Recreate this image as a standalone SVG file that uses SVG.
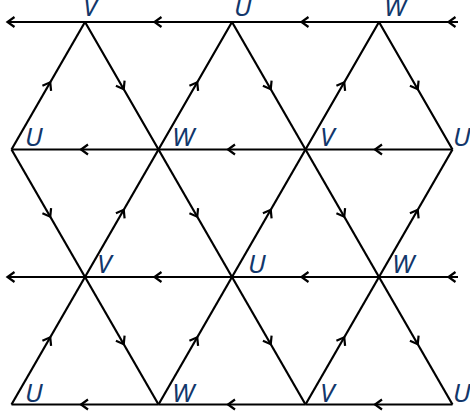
<svg xmlns="http://www.w3.org/2000/svg" width="470" height="417" viewBox="0 0 470 417">
<style>
.e{fill:none;stroke:#000;stroke-width:2.2;marker-mid:url(#ah)}
.l{font-family:"Noto Sans",sans-serif;font-style:italic;font-size:26px;fill:#12376b}
</style>
<defs>
<marker id="ah" markerUnits="userSpaceOnUse" orient="auto" refX="0" refY="0" markerWidth="20" markerHeight="20" viewBox="-10 -10 20 20" overflow="visible">
<path d="M -3,-5 L 4,0 L -3,5" fill="none" stroke="#000" stroke-width="2.2"/>
</marker>
</defs>
<rect width="470" height="417" fill="#fff"/>
<g id="connectors">
<path class="e" d="M458,22 L452.5,22 L379,22"/>
<path class="e" d="M379,22 L305.5,22 L232,22"/>
<path class="e" d="M232,22 L158.5,22 L85,22"/>
<path class="e" d="M85,22 L11.5,22 L7,22"/>
<path class="e" d="M452.5,149.5 L379,149.5 L305.5,149.5"/>
<path class="e" d="M305.5,149.5 L232,149.5 L158.5,149.5"/>
<path class="e" d="M158.5,149.5 L85,149.5 L11.5,149.5"/>
<path class="e" d="M458,277 L452.5,277 L379,277"/>
<path class="e" d="M379,277 L305.5,277 L232,277"/>
<path class="e" d="M232,277 L158.5,277 L85,277"/>
<path class="e" d="M85,277 L11.5,277 L7,277"/>
<path class="e" d="M452.5,404.5 L379,404.5 L305.5,404.5"/>
<path class="e" d="M305.5,404.5 L232,404.5 L158.5,404.5"/>
<path class="e" d="M158.5,404.5 L85,404.5 L11.5,404.5"/>
<path class="e" d="M11.5,149.5 L48.25,85.75 L85,22"/>
<path class="e" d="M85,22 L121.75,85.75 L158.5,149.5"/>
<path class="e" d="M158.5,149.5 L195.25,85.75 L232,22"/>
<path class="e" d="M232,22 L268.75,85.75 L305.5,149.5"/>
<path class="e" d="M305.5,149.5 L342.25,85.75 L379,22"/>
<path class="e" d="M379,22 L415.75,85.75 L452.5,149.5"/>
<path class="e" d="M11.5,149.5 L48.25,213.25 L85,277"/>
<path class="e" d="M85,277 L121.75,213.25 L158.5,149.5"/>
<path class="e" d="M158.5,149.5 L195.25,213.25 L232,277"/>
<path class="e" d="M232,277 L268.75,213.25 L305.5,149.5"/>
<path class="e" d="M305.5,149.5 L342.25,213.25 L379,277"/>
<path class="e" d="M379,277 L415.75,213.25 L452.5,149.5"/>
<path class="e" d="M11.5,404.5 L48.25,340.75 L85,277"/>
<path class="e" d="M85,277 L121.75,340.75 L158.5,404.5"/>
<path class="e" d="M158.5,404.5 L195.25,340.75 L232,277"/>
<path class="e" d="M232,277 L268.75,340.75 L305.5,404.5"/>
<path class="e" d="M305.5,404.5 L342.25,340.75 L379,277"/>
<path class="e" d="M379,277 L415.75,340.75 L452.5,404.5"/>
</g>
<g id="n1"><text class="l" x="83" y="16">V</text></g>
<g id="n2"><text class="l" x="234" y="16">U</text></g>
<g id="n3"><text class="l" x="384" y="16">W</text></g>
<g id="n4"><text class="l" x="25" y="146">U</text></g>
<g id="n5"><text class="l" x="172" y="146">W</text></g>
<g id="n6"><text class="l" x="320" y="146">V</text></g>
<g id="n7"><text class="l" x="453" y="146">U</text></g>
<g id="n8"><text class="l" x="97" y="273">V</text></g>
<g id="n9"><text class="l" x="248" y="273">U</text></g>
<g id="n10"><text class="l" x="392" y="273">W</text></g>
<g id="n11"><text class="l" x="25" y="402">U</text></g>
<g id="n12"><text class="l" x="172" y="402">W</text></g>
<g id="n13"><text class="l" x="320" y="402">V</text></g>
<g id="n14"><text class="l" x="453" y="402">U</text></g>
</svg>
